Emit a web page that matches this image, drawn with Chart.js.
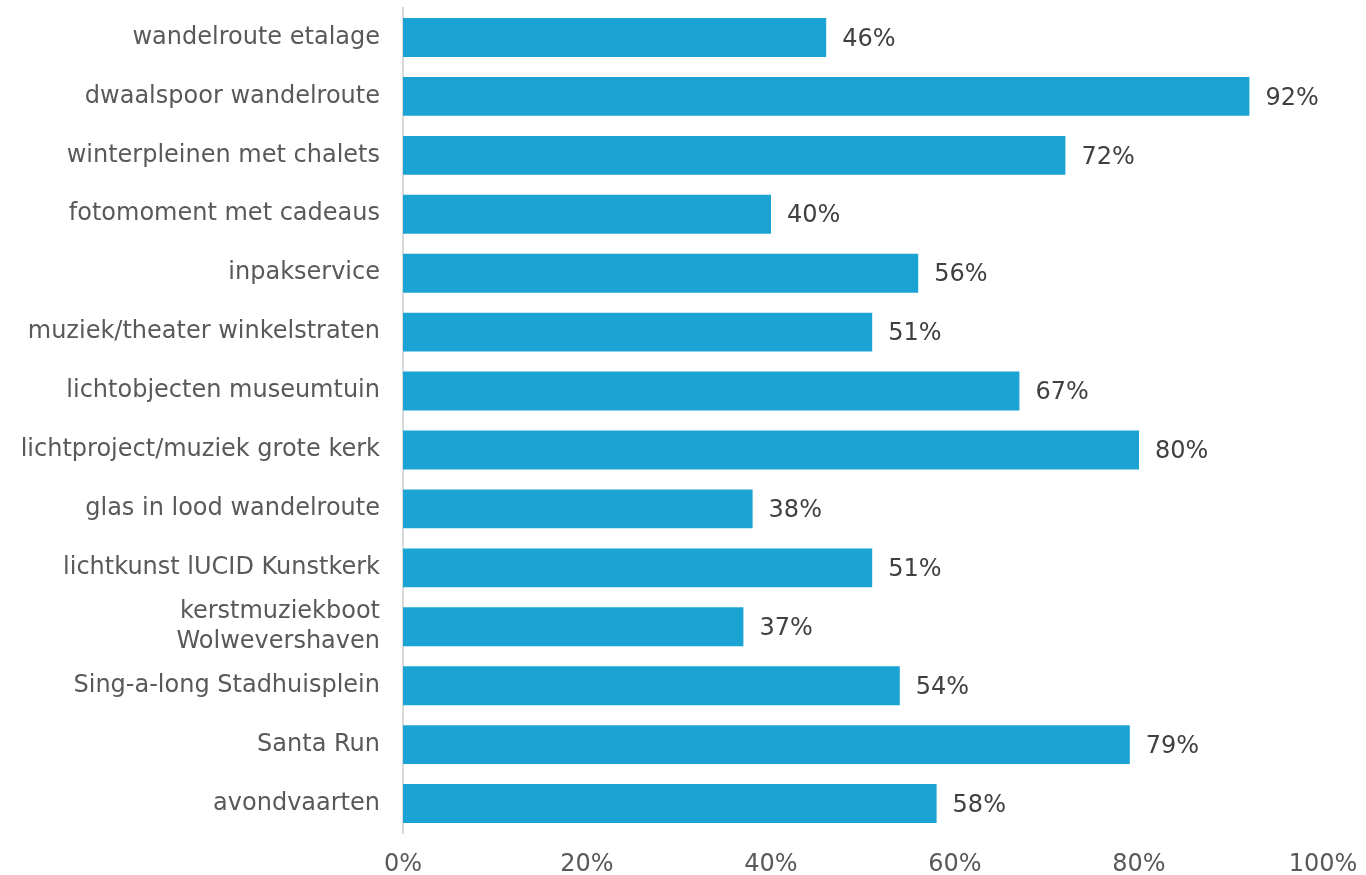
<!DOCTYPE html>
<html>
<head>
<meta charset="utf-8">
<script src="https://cdn.jsdelivr.net/npm/chart.js@4"></script>
<style>
html,body{margin:0;padding:0;background:#fff;}
#wrap{width:1366px;height:875px;position:relative;}
</style>
</head>
<body>
<div id="wrap"><canvas id="c" width="1366" height="875"></canvas></div>
<script>
const categories = [
  "wandelroute etalage",
  "dwaalspoor wandelroute",
  "winterpleinen met chalets",
  "fotomoment met cadeaus",
  "inpakservice",
  "muziek/theater winkelstraten",
  "lichtobjecten museumtuin",
  "lichtproject/muziek grote kerk",
  "glas in lood wandelroute",
  "lichtkunst lUCID Kunstkerk",
  ["kerstmuziekboot", "Wolwevershaven"],
  "Sing-a-long Stadhuisplein",
  "Santa Run",
  "avondvaarten"
];
const values = [46, 92, 72, 40, 56, 51, 67, 80, 38, 51, 37, 54, 79, 58];
const xTicks = [0, 20, 40, 60, 80, 100];

const FONT = "'DejaVu Sans', Verdana, sans-serif";
const FS = 24;

const valueLabels = {
  id: 'valueLabels',
  afterDatasetsDraw(chart) {
    const ctx = chart.ctx;
    const meta = chart.getDatasetMeta(0);
    ctx.save();
    ctx.font = FS + "px " + FONT;
    ctx.fillStyle = '#404040';
    ctx.textAlign = 'left';
    ctx.textBaseline = 'middle';
    meta.data.forEach((bar, i) => {
      ctx.fillText(values[i] + '%', bar.x + 16, bar.y + 2);
    });
    ctx.restore();
  }
};

new Chart(document.getElementById('c'), {
  type: 'bar',
  data: {
    labels: categories,
    datasets: [{
      data: values,
      backgroundColor: '#1ba3d3',
      borderWidth: 0,
      barPercentage: 0.66,
      categoryPercentage: 1.0
    }]
  },
  options: {
    indexAxis: 'y',
    responsive: false,
    animation: false,
    layout: { padding: { left: 0, right: 43, top: 8, bottom: 0 } },
    plugins: { legend: { display: false }, tooltip: { enabled: false } },
    scales: {
      x: {
        min: 0, max: 100,
        afterBuildTicks(axis) { axis.ticks = xTicks.map(v => ({ value: v })); },
        grid: { display: false, drawTicks: false },
        border: { display: false },
        ticks: {
          color: '#595959',
          font: { family: FONT, size: FS },
          padding: 17,
          callback: v => v + '%'
        },
        afterFit(axis) { axis.height = 42; axis.paddingLeft = 0; axis.paddingRight = 0; }
      },
      y: {
        grid: { display: false, drawTicks: false },
        border: { display: true, color: '#d9d9d9', width: 2 },
        ticks: {
          color: '#595959',
          font: { family: FONT, size: FS, lineHeight: 1.22 },
          padding: 23,
          autoSkip: false
        },
        afterFit(axis) { axis.width = 403; axis.paddingTop = 0; axis.paddingBottom = 0; }
      }
    }
  },
  plugins: [valueLabels]
});
</script>
</body>
</html>
